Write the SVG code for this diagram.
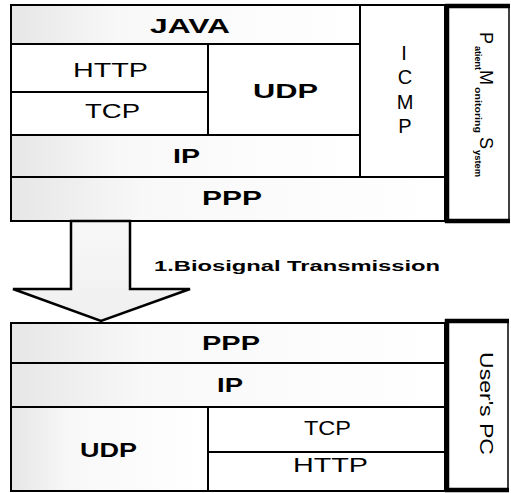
<svg xmlns="http://www.w3.org/2000/svg" width="511" height="493" viewBox="0 0 511 493">
<defs>
<linearGradient id="grain" x1="0" y1="0" x2="1" y2="0">
<stop offset="0" stop-color="#e6e6e6"/>
<stop offset="0.3" stop-color="#f8f8f8"/>
<stop offset="1" stop-color="#ffffff"/>
</linearGradient>
<linearGradient id="grainV" x1="0" y1="0" x2="0" y2="1">
<stop offset="0" stop-color="#f8f8f8"/>
<stop offset="1" stop-color="#efefef"/>
</linearGradient>
</defs>
<style>
.cell{fill:#fff;stroke:#000;stroke-width:2}
.tex{fill:url(#grain);stroke:#000;stroke-width:2}
.host{fill:#fff;stroke:#000;stroke-width:1.5}
.thick{stroke:#000;stroke-width:4.5;fill:none}
.b{font-family:"Liberation Sans",Arial,sans-serif;font-weight:bold;font-size:20px;fill:#000}
.r{font-family:"Liberation Sans",Arial,sans-serif;font-weight:normal;font-size:20px;fill:#000}
.big{font-family:"Liberation Sans",Arial,sans-serif;font-size:18px;fill:#000}
.sm{font-family:"Liberation Sans",Arial,sans-serif;font-weight:bold;font-size:9px;fill:#000}
.lbl{font-family:"Liberation Sans",Arial,sans-serif;font-weight:bold;font-size:14px;fill:#000}
</style>
<rect width="511" height="493" fill="#fff"/>

<g id="top-java"><rect class="tex" x="11" y="5" width="349" height="39"/><text class="b" x="150" y="33" textLength="80" lengthAdjust="spacingAndGlyphs">JAVA</text></g>
<g id="top-http"><rect class="cell" x="11" y="44" width="197" height="48"/><text class="r" x="73" y="77" textLength="75" lengthAdjust="spacingAndGlyphs">HTTP</text></g>
<g id="top-tcp"><rect class="cell" x="11" y="92" width="197" height="43"/><text class="r" x="85" y="118" textLength="55" lengthAdjust="spacingAndGlyphs">TCP</text></g>
<g id="top-udp"><rect class="cell" x="208" y="44" width="152" height="91"/><text class="b" x="253" y="98" textLength="65" lengthAdjust="spacingAndGlyphs">UDP</text></g>
<g id="top-icmp"><rect class="cell" x="360" y="5" width="85" height="172"/>
<text class="r" x="404" y="60" text-anchor="middle">I</text>
<text class="r" x="405" y="84" text-anchor="middle">C</text>
<text class="r" x="405" y="109" text-anchor="middle">M</text>
<text class="r" x="405" y="133" text-anchor="middle">P</text></g>
<g id="top-ip"><rect class="tex" x="11" y="135" width="349" height="42"/><text class="b" x="173" y="163" textLength="27" lengthAdjust="spacingAndGlyphs">IP</text></g>
<g id="top-ppp"><rect class="tex" x="11" y="177" width="434" height="44"/><text class="b" x="202" y="205" textLength="60" lengthAdjust="spacingAndGlyphs">PPP</text></g>
<g id="pms"><rect class="host" x="447" y="6" width="62" height="215"/>
<path class="thick" d="M447,4 V223 M445,6 H510 M445,221 H510"/>
<text transform="rotate(90)">
<tspan class="big" x="32" y="-480">P</tspan><tspan class="sm" x="46" y="-475" textLength="24" lengthAdjust="spacingAndGlyphs">atient</tspan>
<tspan class="big" x="70" y="-480">M</tspan><tspan class="sm" x="87" y="-475" textLength="46" lengthAdjust="spacingAndGlyphs">onitoring</tspan>
<tspan class="big" x="137" y="-480">S</tspan><tspan class="sm" x="150" y="-475" textLength="27" lengthAdjust="spacingAndGlyphs">ystem</tspan>
</text></g>

<g id="bot-ppp"><rect class="tex" x="11" y="323" width="434" height="40"/><text class="b" x="202" y="350" textLength="58" lengthAdjust="spacingAndGlyphs">PPP</text></g>
<g id="bot-ip"><rect class="tex" x="11" y="363" width="434" height="44"/><text class="b" x="217" y="392" textLength="26" lengthAdjust="spacingAndGlyphs">IP</text></g>
<g id="bot-udp"><rect class="tex" x="11" y="407" width="197" height="84"/><text class="b" x="80" y="457" textLength="57" lengthAdjust="spacingAndGlyphs">UDP</text></g>
<g id="bot-tcp"><rect class="cell" x="208" y="407" width="237" height="45"/><text class="r" x="304" y="435" textLength="47" lengthAdjust="spacingAndGlyphs">TCP</text></g>
<g id="bot-http"><rect class="cell" x="208" y="452" width="237" height="39"/><text class="r" x="293" y="472" textLength="75" lengthAdjust="spacingAndGlyphs">HTTP</text></g>
<g id="userpc"><rect class="host" x="447" y="321" width="61" height="169"/>
<path class="thick" d="M447,319 V492 M445,321 H509 M445,490 H509"/>
<text class="big" transform="rotate(90)" x="352" y="-480" textLength="103" lengthAdjust="spacingAndGlyphs">User's PC</text></g>

<g id="connectors">
<polygon points="71,221 130,221 130,289 190,289 101,321 13,289 71,289" fill="url(#grainV)" stroke="#000" stroke-width="2.5" stroke-linejoin="miter"/>
<text class="lbl" x="154" y="271" textLength="286" lengthAdjust="spacingAndGlyphs">1.Biosignal Transmission</text>
</g>
</svg>
